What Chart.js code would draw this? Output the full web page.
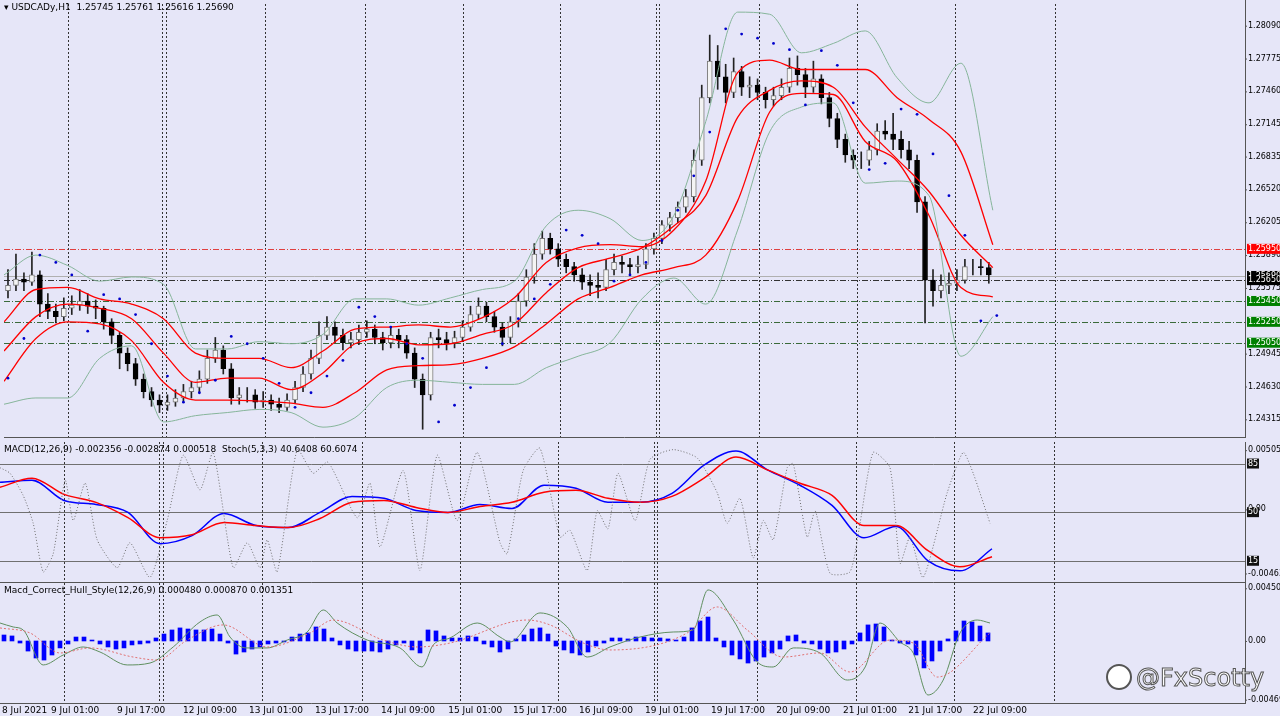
<!DOCTYPE html>
<html>
<head>
<meta charset="utf-8">
<script src="https://cdn.jsdelivr.net/npm/chart.js@4.4.1/dist/chart.umd.min.js"></script>
<style>
  html, body { margin: 0; padding: 0; background: #e6e6f8; }
  body { width: 1280px; height: 716px; position: relative; overflow: hidden; font-family: "DejaVu Sans", sans-serif; }
  .pane { position: absolute; left: 0; width: 1280px; }
  #mark { position: absolute; left: 1106px; top: 664px; font: 24px "DejaVu Sans", sans-serif; color: #fff; white-space: nowrap;
          -webkit-text-stroke: 1px #555; }
  #mark span { display: inline-block; width: 22px; height: 22px; border: 2px solid #555; border-radius: 50%;
               background: #fff; vertical-align: -4px; margin-right: 4px; }
</style>
</head>
<body>
<div class="pane" style="top:0;height:442px"><canvas id="priceChart"></canvas></div>
<div class="pane" style="top:442px;height:141px"><canvas id="macdChart"></canvas></div>
<div class="pane" style="top:583px;height:133px"><canvas id="hullChart"></canvas></div>
<div id="mark"><span></span>@FxScotty</div>
<script>
// ---- data (2-hour candles, x axis in "quarter pixels" = hours of the MT4 layout) ----
const closes = [1.2560,1.2566,1.2563,1.2570,1.2542,1.2535,1.2530,1.2538,1.2541,1.2545,
  1.2540,1.2538,1.2525,1.2512,1.2495,1.2485,1.2470,1.2458,1.2450,1.2445,
  1.2448,1.2452,1.2458,1.2462,1.2470,1.2490,1.2498,1.2480,1.2452,1.2455,
  1.2455,1.2448,1.2450,1.2446,1.2443,1.2450,1.2462,1.2475,1.2490,1.2512,
  1.2520,1.2512,1.2505,1.2508,1.2515,1.2518,1.2510,1.2505,1.2512,1.2508,
  1.2495,1.2470,1.2455,1.2510,1.2508,1.2505,1.2510,1.2520,1.2532,1.2540,
  1.2530,1.2520,1.2510,1.2525,1.2545,1.2568,1.2590,1.2605,1.2595,1.2585,
  1.2578,1.2570,1.2563,1.2560,1.2558,1.2575,1.2582,1.2580,1.2578,1.2580,
  1.2595,1.2605,1.2618,1.2625,1.2635,1.2645,1.2680,1.2740,1.2775,1.2760,
  1.2745,1.2765,1.2750,1.2752,1.2745,1.2738,1.2742,1.2750,1.2768,1.2762,
  1.2750,1.2758,1.2740,1.2720,1.2700,1.2685,1.2680,1.2680,1.2690,1.2708,
  1.2705,1.2700,1.2690,1.2680,1.2640,1.2565,1.2555,1.2560,1.2562,1.2565,
  1.2578,1.2578,1.2577,1.2570];
const firstOpen = 1.2555;
const highs = [1.2575,1.2590,1.2572,1.2592,1.2574,1.2552,1.2542,1.2548,1.2550,1.2556,
  1.2552,1.2546,1.2540,1.2528,1.2515,1.2500,1.2490,1.2475,1.2462,1.2455,
  1.2455,1.2460,1.2465,1.2468,1.2478,1.2498,1.2510,1.2502,1.2485,1.2462,
  1.2462,1.2460,1.2458,1.2455,1.2452,1.2456,1.2468,1.2482,1.2498,1.2525,
  1.2530,1.2525,1.2518,1.2515,1.2522,1.2526,1.2522,1.2515,1.2520,1.2518,
  1.2512,1.2500,1.2475,1.2515,1.2518,1.2515,1.2516,1.2526,1.2540,1.2548,
  1.2544,1.2535,1.2524,1.2530,1.2552,1.2575,1.2600,1.2612,1.2610,1.2600,
  1.2590,1.2582,1.2576,1.2570,1.2572,1.2585,1.2590,1.2588,1.2586,1.2588,
  1.2600,1.2610,1.2622,1.2630,1.2640,1.2652,1.2690,1.2752,1.2800,1.2790,
  1.2772,1.2778,1.2770,1.2760,1.2758,1.2750,1.2750,1.2758,1.2778,1.2780,
  1.2768,1.2775,1.2762,1.2745,1.2725,1.2705,1.2690,1.2688,1.2698,1.2715,
  1.2718,1.2725,1.2708,1.2698,1.2685,1.2645,1.2575,1.2570,1.2572,1.2575,
  1.2585,1.2585,1.2585,1.2582];
const lows = [1.2548,1.2555,1.2555,1.2560,1.2530,1.2528,1.2524,1.2526,1.2532,1.2536,
  1.2533,1.2528,1.2518,1.2504,1.2480,1.2478,1.2464,1.2452,1.2444,1.2438,
  1.2440,1.2444,1.2449,1.2452,1.2457,1.2466,1.2486,1.2475,1.2446,1.2446,
  1.2448,1.2442,1.2443,1.2440,1.2438,1.2440,1.2447,1.2458,1.2470,1.2485,
  1.2508,1.2505,1.2498,1.2500,1.2503,1.2510,1.2504,1.2498,1.2500,1.2500,
  1.2490,1.2462,1.2422,1.2450,1.2500,1.2498,1.2500,1.2506,1.2516,1.2528,
  1.2525,1.2515,1.2502,1.2505,1.2520,1.2540,1.2562,1.2585,1.2590,1.2578,
  1.2572,1.2564,1.2556,1.2550,1.2548,1.2555,1.2570,1.2572,1.2570,1.2572,
  1.2576,1.2590,1.2600,1.2612,1.2620,1.2630,1.2640,1.2675,1.2735,1.2748,
  1.2735,1.2740,1.2742,1.2740,1.2738,1.2730,1.2732,1.2738,1.2745,1.2752,
  1.2740,1.2745,1.2734,1.2712,1.2692,1.2678,1.2672,1.2672,1.2675,1.2685,
  1.2700,1.2690,1.2682,1.2672,1.2630,1.2524,1.2540,1.2548,1.2552,1.2555,
  1.2562,1.2570,1.2570,1.2562];

// envelope / bollinger, one value every 8 hours
const envUpper = [1.2525,1.2556,1.2558,1.2547,1.2542,1.2528,1.2495,1.2490,1.2490,1.2481,1.2497,1.2518,1.2520,1.2522,1.2520,1.2529,
  1.2548,1.2582,1.2596,1.2599,1.2597,1.2613,1.2660,1.2764,1.2776,1.2767,1.2767,1.2767,1.2740,1.2719,1.2688,1.2599];
const envMid = [1.2497,1.2530,1.2542,1.2538,1.2528,1.2495,1.2467,1.2471,1.2471,1.2460,1.2476,1.2504,1.2509,1.2503,1.2504,1.2513,
  1.2523,1.2553,1.2577,1.2586,1.2596,1.2617,1.2646,1.2721,1.2747,1.2756,1.2750,1.2712,1.2681,1.2650,1.2608,1.2577];
const envLower = [1.2468,1.2509,1.2525,1.2523,1.2507,1.2467,1.2450,1.2450,1.2449,1.2447,1.2443,1.2457,1.2479,1.2483,1.2484,1.2490,
  1.2501,1.2523,1.2547,1.2558,1.2570,1.2577,1.2589,1.2641,1.2726,1.2744,1.2743,1.2698,1.2679,1.2627,1.2558,1.2549];
const bbUpper = [1.2570,1.2589,1.2579,1.2564,1.2568,1.2561,1.2499,1.2499,1.2506,1.2504,1.2513,1.2547,1.2547,1.2541,1.2548,1.2556,
  1.2564,1.2617,1.2632,1.2624,1.2603,1.2627,1.2717,1.2822,1.2820,1.2783,1.2792,1.2804,1.2759,1.2735,1.2773,1.2632];
const bbLower = [1.2446,1.2452,1.2452,1.2490,1.2502,1.2429,1.2435,1.2438,1.2441,1.2438,1.2424,1.2433,1.2462,1.2469,1.2467,1.2465,
  1.2465,1.2481,1.2492,1.2505,1.2547,1.2567,1.2542,1.2613,1.2707,1.2731,1.2735,1.2658,1.2660,1.2646,1.2492,1.2530];
// parabolic SAR, one dot every 4 hours
const sar = [1.2471,1.2509,1.2589,1.2582,1.2570,1.2516,1.2551,1.2547,1.2532,1.2504,1.2473,1.2448,1.2457,1.2469,1.2511,1.2504,
  1.2490,1.2466,1.2443,1.2457,1.2473,1.2488,1.2539,1.2530,1.2520,1.2504,1.2490,1.2429,1.2445,1.2462,1.2481,1.2504,
  1.2528,1.2547,1.2561,1.2613,1.2608,1.2600,1.2564,1.2570,1.2582,1.2603,1.2632,1.2665,1.2707,1.2806,1.2801,1.2797,
  1.2792,1.2786,1.2733,1.2785,1.2771,1.2735,1.2671,1.2677,1.2729,1.2724,1.2686,1.2646,1.2608,1.2526,1.2531];

// MACD(12,26,9), every 8 hours
const macdMain = [0.00235,0.00250,0.00104,0.00075,0.00017,-0.00209,-0.00151,0.00009,-0.00078,-0.00093,0.00017,0.00133,0.00119,0.00031,0.00017,0.00075,
  0.00046,0.00214,0.00192,0.00090,0.00090,0.00155,0.00359,0.00461,0.00323,0.00214,0.00068,-0.00166,-0.00085,-0.00333,-0.00406,-0.00246];
const macdSignal = [0.00199,0.00265,0.00148,0.00090,-0.00020,-0.00166,-0.00144,-0.00056,-0.00078,-0.00093,-0.00027,0.00090,0.00104,0.00053,0.00017,0.00060,
  0.00090,0.00163,0.00177,0.00119,0.00090,0.00133,0.00265,0.00418,0.00323,0.00228,0.00141,-0.00078,-0.00078,-0.00260,-0.00377,-0.00304];
// Stoch(5,3,3) main line
const stochHours = [0,2.5,5.8,8.3,10.8,13.3,16.3,18.3,21.3,24.3,29.3,32.5,37.5,41.8,45.8,50,53.3,58.3,61.8,65,66.8,69.3,74.3,78.3,82,89.3,92.5,95,
  100.8,105,109.3,114.3,119.3,125,126.8,130.8,135,140,142.5,146.8,149.3,152,154.5,158.8,162.5,168.3,174.3,179.3,181.8,185,188.3,190.8,193.3,
  196.8,198.3,201.8,203.8,207.5,212.5,215,218.3,222.5,225,227.5,230.8,236.8,240.8,243.3,247.5];
const stochVals = [82,78,62,42,7,20,73,44,71,30,10,28,3,44,91,66,93,10,28,10,30,7,95,78,86,46,71,25,80,8,91,44,93,28,20,80,96,32,37,8,51,38,78,
  44,88,95,89,64,42,60,17,44,30,82,85,32,51,6,7,42,93,82,13,32,3,64,93,78,42];

// Macd_Correct_Hull_Style histogram, every 2 hours
const hullHist = [0.0005,0.00042,-0.00017,-0.00084,-0.00142,-0.00159,-0.00117,-0.00058,-0.00025,0.00033,
  0.00033,0.00008,-0.00025,-0.0005,-0.00067,-0.00058,-0.00033,-0.00025,-0.00017,0.00025,
  0.00058,0.00092,0.00109,0.001,0.00092,0.00092,0.001,0.00058,-0.00017,-0.00109,
  -0.00092,-0.00067,-0.0005,-0.00025,-0.00017,-0.00008,0.00033,0.00058,0.00067,0.00117,
  0.001,0.00025,-0.00033,-0.00067,-0.00084,-0.00084,-0.00084,-0.00092,-0.00067,-0.00033,
  -0.00017,-0.00075,-0.001,0.00092,0.00084,0.00042,0.00025,0.00025,0.00042,0.00033,
  -0.00025,-0.0005,-0.00092,-0.00067,0.00017,0.0005,0.001,0.00109,0.00058,-0.00042,
  -0.00075,-0.001,-0.00117,-0.00092,-0.00042,-0.00017,0.00025,0.00025,0.00017,0.00033,
  0.00033,0.00025,0.00025,0.00017,0.00008,0.00033,0.00109,0.00167,0.002,0.00025,
  -0.0005,-0.00117,-0.0015,-0.00184,-0.00167,-0.00134,-0.001,-0.00067,0.00042,0.0005,
  -0.00017,-0.00025,-0.00067,-0.001,-0.00092,-0.00067,-0.00025,0.00067,0.00134,0.00142,
  0.00117,0.00008,-0.00017,-0.00025,-0.00117,-0.00225,-0.00167,-0.00084,0.00017,0.00084,
  0.00167,0.00159,0.00125,0.00067];
const hullHours = [0,3.3,5.8,10.8,15.8,20.8,25,31.8,37.5,43.3,50,54.3,57.5,61.5,66.8,71.8,76.8,80.8,84.3,91.8,100,105.5,108.3,112.5,119.3,125,
  127.5,135,141.8,146.8,152.5,160,168.3,173.3,177,183.3,189.3,193.3,198.3,205,211.8,216.3,220,225,228.3,232,235.8,240,244.3,247.5];
const hullLine = [0.0015,0.00117,0.00092,-0.002,-0.00117,-0.0005,-0.00092,-0.002,-0.00184,-0.0005,0.00159,0.00217,0.00033,-0.00058,-0.00058,0.00008,
  0.00075,0.00259,0.0015,0.00008,-0.00058,-0.00217,-0.00033,0.00025,0.0015,0.00033,-0.00008,0.00234,0.00117,-0.00134,-0.0005,0.00033,0.00075,
  0.00092,0.00426,0.00175,-0.00175,-0.00217,-0.00058,-0.001,-0.00326,-0.00217,0.0015,-0.00008,-0.001,-0.00451,-0.00326,0.00067,0.00175,0.0015];
const hullSigHours = [0,7.5,15,22.5,33.3,39.3,46.8,55.8,66.8,77.5,83.3,95.8,104.3,112.5,131.8,137.5,145.8,152.5,171.8,179.3,186.8,195.8,205,212.5,222.5,228.3,234.3,247.5];
const hullSignal = [0.00109,0.00067,-0.001,-0.00058,-0.00134,-0.00159,0.00008,0.00134,-0.0005,0.00067,0.00175,0.00008,-0.0005,-0.00017,0.00175,0.00134,
  -0.00017,-0.00075,0.00067,0.00284,0.00092,-0.00134,-0.001,-0.00259,0.00008,-0.00017,-0.00301,0.00067];

// axis decorations
const priceTicks = [1.28090,1.27775,1.27460,1.27145,1.26835,1.26520,1.26205,1.25890,1.25575,1.24945,1.24630,1.24315];
const levels = [1.2595,1.2565,1.2545,1.2525,1.2505];
const levelColors = ['#e04040','#333333','#3a6a3a','#3a6a3a','#3a6a3a'];
const boxes = [[1.2595,'#ff0000'],[1.2569,'#000000'],[1.2565,'#000000'],[1.2545,'#008000'],[1.2525,'#008000'],[1.2505,'#008000']];
const stochLevels = [85,50,15];
const gridHours = [16,39.75,40.75,65.5,90.5,115,139.5,163.5,164.25,189.25,214,238.5,263.5];
const dateLabels = ['8 Jul 2021','9 Jul 01:00','9 Jul 17:00','12 Jul 09:00','13 Jul 01:00','13 Jul 17:00','14 Jul 09:00','15 Jul 01:00',
  '15 Jul 17:00','16 Jul 09:00','19 Jul 01:00','19 Jul 17:00','20 Jul 09:00','21 Jul 01:00','21 Jul 17:00','22 Jul 09:00'];
const dateHours = [0.5,17,33.5,50,66.5,83,99.5,116.3,132.5,149,165.5,182,198.3,215,231.3,247.5];

const XMAX = 311.25, FONT = '8px "DejaVu Sans", sans-serif', TFONT = '9px "DejaVu Sans", sans-serif';
const opens = closes.map((c, i) => i === 0 ? firstOpen : closes[i - 1]);
const candleX = i => 2 * i + 1;
const every = (arr, step, off) => arr.map((v, i) => ({ x: i * step + (off || 0), y: v }));
const pairs = (xs, ys) => xs.map((x, i) => ({ x: x, y: ys[i] }));

function line(data, color, width, extra) {
  return Object.assign({ type: 'line', data: data, borderColor: color, borderWidth: width, pointRadius: 0,
    tension: 0.4, cubicInterpolationMode: 'monotone', order: 1 }, extra || {});
}

function paneDeco(opts) {
  return {
    id: 'deco',
    beforeDatasetsDraw(chart) {
      const ctx = chart.ctx, a = chart.chartArea, xs = chart.scales.x;
      ctx.save();
      ctx.strokeStyle = '#333'; ctx.lineWidth = 1; ctx.setLineDash([2, 2]);
      gridHours.forEach(h => {
        const px = Math.round(xs.getPixelForValue(h)) + 0.5;
        ctx.beginPath(); ctx.moveTo(px, a.top); ctx.lineTo(px, a.bottom); ctx.stroke();
      });
      (opts.hlines || []).forEach(l => {
        const py = Math.round(chart.scales[l.axis || 'y'].getPixelForValue(l.v)) + 0.5;
        ctx.strokeStyle = l.color; ctx.setLineDash(l.dash || []);
        ctx.beginPath(); ctx.moveTo(a.left, py); ctx.lineTo(a.right, py); ctx.stroke();
      });
      ctx.restore();
    },
    afterDraw(chart) {
      const ctx = chart.ctx, a = chart.chartArea;
      ctx.save();
      ctx.strokeStyle = '#555'; ctx.lineWidth = 1; ctx.setLineDash([]);
      ctx.beginPath(); ctx.moveTo(a.right + 0.5, 0); ctx.lineTo(a.right + 0.5, a.bottom); ctx.stroke();
      ctx.beginPath(); ctx.moveTo(a.left, a.bottom - 0.5); ctx.lineTo(a.right, a.bottom - 0.5); ctx.stroke();
      ctx.font = FONT; ctx.textBaseline = 'middle';
      (opts.labels || []).forEach(l => {
        const py = chart.scales[l.axis || 'y'].getPixelForValue(l.v);
        if (l.bg) { ctx.fillStyle = l.bg; ctx.fillRect(a.right + 2, py - 5, l.w || 33, 10); ctx.fillStyle = '#fff'; }
        else {
          ctx.fillStyle = '#000';
          ctx.beginPath(); ctx.moveTo(a.right, py + 0.5); ctx.lineTo(a.right + 2, py + 0.5); ctx.stroke();
        }
        ctx.fillText(l.text, a.right + 3, py);
      });
      ctx.font = TFONT; ctx.fillStyle = '#000'; ctx.textBaseline = 'top';
      if (opts.title) ctx.fillText(opts.title, 4, 3);
      if (opts.dates) {
        const xs = chart.scales.x;
        dateLabels.forEach((t, i) => {
          const px = xs.getPixelForValue(dateHours[i]);
          ctx.fillText(t, px + (i === 0 ? 0 : -17), a.bottom + 2);
        });
      }
      ctx.restore();
    }
  };
}

function baseOptions(ymin, ymax, extraScales, padBottom) {
  return {
    responsive: true, maintainAspectRatio: false, animation: false,
    layout: { padding: { left: 0, right: 35, top: 0, bottom: padBottom || 0 } },
    plugins: { legend: { display: false }, tooltip: { enabled: false } },
    scales: Object.assign({
      x: { type: 'linear', min: 0, max: XMAX, display: false, offset: false, grid: { offset: false } },
      y: { min: ymin, max: ymax, display: false }
    }, extraScales || {})
  };
}

// --- 1. price pane ---
const bull = closes.map((c, i) => c >= opens[i]);
const priceLabels = priceTicks.map(v => ({ v: v, text: v.toFixed(5) }))
  .concat(boxes.map(b => ({ v: b[0], text: b[0].toFixed(5), bg: b[1] })));
new Chart(document.getElementById('priceChart'), {
  type: 'bar',
  data: {
    datasets: [
      { data: closes.map((c, i) => ({ x: candleX(i), y: [lows[i], highs[i]] })), backgroundColor: '#222',
        barThickness: 1, grouped: false, order: 6 },
      { data: closes.map((c, i) => ({ x: candleX(i), y: [opens[i], c] })),
        backgroundColor: bull.map(b => b ? '#f4f4f4' : '#000'), borderColor: bull.map(b => b ? '#777' : '#000'),
        borderWidth: 1, borderSkipped: false, barThickness: 5, grouped: false, order: 5 },
      line(every(bbUpper, 8), '#86b59a', 1),
      line(every(bbLower, 8), '#86b59a', 1),
      line(every(envUpper, 8), '#ff0000', 1.3),
      line(every(envMid, 8), '#ff0000', 1.3),
      line(every(envLower, 8), '#ff0000', 1.3),
      { type: 'line', data: every(sar, 4, 1), showLine: false, pointRadius: 1.4, pointBackgroundColor: '#0000cc',
        pointBorderWidth: 0, order: 0 }
    ]
  },
  options: baseOptions(1.24136, 1.28298),
  plugins: [paneDeco({
    title: '\u25BE USDCADy,H1  1.25745 1.25761 1.25616 1.25690',
    hlines: levels.map((v, i) => ({ v: v, color: levelColors[i], dash: [6, 2, 1, 2] }))
      .concat([{ v: 1.2569, color: '#b0b0b0' }]),
    labels: priceLabels
  })]
});

// --- 2. MACD + Stoch pane ---
new Chart(document.getElementById('macdChart'), {
  type: 'line',
  data: {
    datasets: [
      line(pairs(stochHours, stochVals), '#707070', 1, { yAxisID: 'y', borderDash: [1, 2], tension: 0.2, cubicInterpolationMode: 'default' }),
      line(every(macdSignal, 8), '#ff0000', 1.5, { yAxisID: 'm' }),
      line(every(macdMain, 8), '#0000ff', 1.5, { yAxisID: 'm' })
    ]
  },
  options: baseOptions(-1, 100.5, { m: { min: -0.00494, max: 0.00527, display: false } }),
  plugins: [paneDeco({
    title: 'MACD(12,26,9) -0.002356 -0.002874 0.000518  Stoch(5,3,3) 40.6408 60.6074',
    hlines: stochLevels.map(v => ({ v: v, color: '#707070' })),
    labels: [{ v: 0.00468, axis: 'm', text: '0.005054' }, { v: -0.00425, axis: 'm', text: '-0.00463' }, { v: 52, text: '0.00' }]
      .concat(stochLevels.map(v => ({ v: v, text: String(v), bg: '#111', w: 12 })))
  })]
});

// --- 3. Hull MACD pane ---
new Chart(document.getElementById('hullChart'), {
  type: 'bar',
  data: {
    datasets: [
      { data: hullHist.map((v, i) => ({ x: candleX(i), y: v })), backgroundColor: '#0000ff', barThickness: 4, order: 5 },
      line(pairs(hullSigHours, hullSignal), '#e07070', 1, { borderDash: [2, 2] }),
      line(pairs(hullHours, hullLine), '#5f8f5f', 1)
    ]
  },
  options: baseOptions(-0.00526, 0.00484, null, 12),
  plugins: [paneDeco({
    title: 'Macd_Correct_Hull_Style(12,26,9) 0.000480 0.000870 0.001351',
    labels: [{ v: 0.00440, text: '0.004508' }, { v: 0, text: '0.00' }, { v: -0.00490, text: '-0.00469' }],
    dates: true
  })]
});
</script>
</body>
</html>
